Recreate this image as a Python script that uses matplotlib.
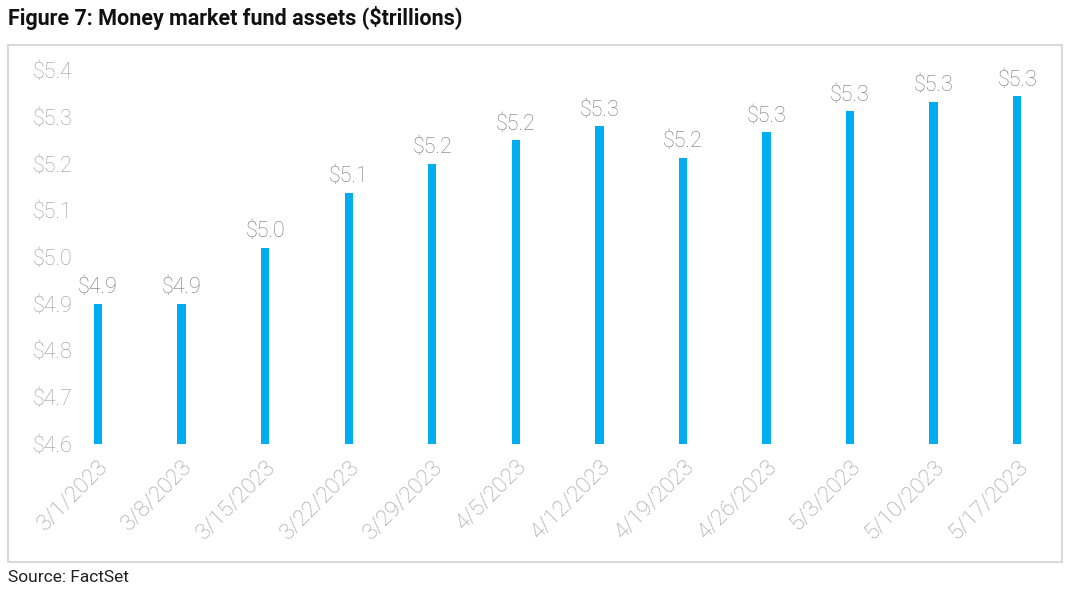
import matplotlib
matplotlib.use("Agg")
import matplotlib.pyplot as plt
from matplotlib.patches import Rectangle
from matplotlib.transforms import ScaledTranslation

dates = ["3/1/2023", "3/8/2023", "3/15/2023", "3/22/2023", "3/29/2023", "4/5/2023",
         "4/12/2023", "4/19/2023", "4/26/2023", "5/3/2023", "5/10/2023", "5/17/2023"]
assets = [4.90, 4.90, 5.02, 5.137, 5.20, 5.25, 5.28, 5.212, 5.267, 5.312, 5.332, 5.344]
yticks = [4.6, 4.7, 4.8, 4.9, 5.0, 5.1, 5.2, 5.3, 5.4]

plt.rcParams['font.family'] = ['Roboto', 'DejaVu Sans']

fig = plt.figure(figsize=(10.84, 5.95), dpi=100)
ax = fig.add_axes([75/1084, 1-444/595, (1059-75)/1084, (444-70)/595])

x = list(range(len(dates)))
ax.bar(x, assets, width=0.1, bottom=0, color="#00AEEF")
ax.set_ylim(4.6, 5.4)
ax.set_xlim(-0.275, 11.5)

for xi, v in zip(x, assets):
    ax.annotate("$%.1f" % v, (xi, v), xytext=(0, 4), textcoords="offset points",
                ha="center", va="bottom", fontsize=15.5, color="#767676", fontweight="light")

ax.set_yticks(yticks)
ax.set_yticklabels(["$%.1f" % t for t in yticks], fontsize=15.5, color="#9A9A9A", fontweight="light")
ax.set_xticks(x)
ax.set_xticklabels(dates, rotation=45, ha="right", rotation_mode="anchor",
                   fontsize=16, color="#9A9A9A", fontweight="light")
shift = ScaledTranslation(-5/100, 0, fig.dpi_scale_trans)
for lab in ax.get_xticklabels():
    lab.set_transform(lab.get_transform() + shift)
ax.tick_params(axis="both", length=0)
ax.tick_params(axis="y", pad=2)
ax.tick_params(axis="x", pad=9)
for s in ax.spines.values():
    s.set_visible(False)

fig.patches.append(Rectangle((8/1084, 1-562/595), 1054/1084, 517/595, transform=fig.transFigure,
                             fill=False, edgecolor="#D9D9D9", linewidth=1.5))
fig.text(8/1084, 1-18/595, "Figure 7: Money market fund assets ($trillions)", fontsize=15.5,
         fontweight="bold", va="center", ha="left", color="#111111")
fig.text(8/1084, 1-577/595, "Source: FactSet", fontsize=12.5, va="center", ha="left", color="#222222")

fig.savefig("out.png", dpi=100)
